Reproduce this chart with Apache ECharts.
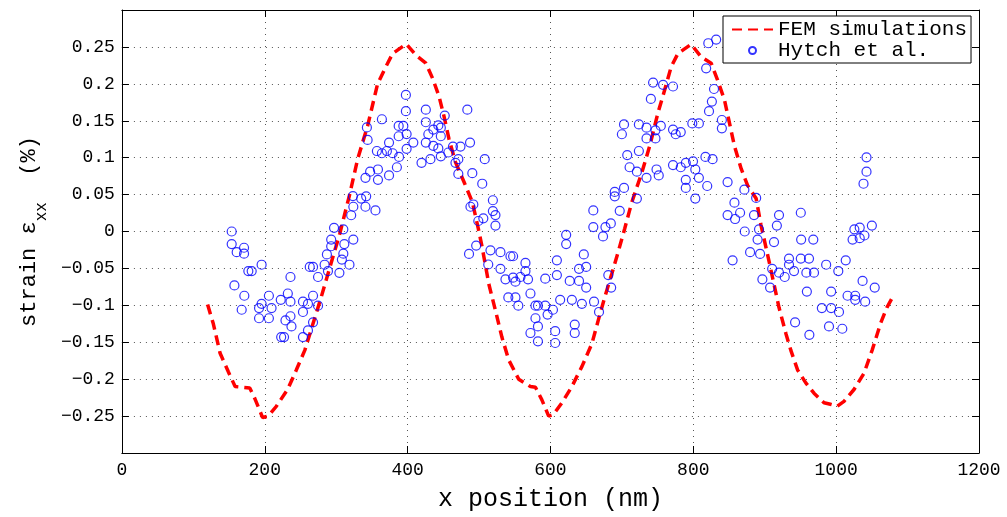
<!DOCTYPE html>
<html>
<head>
<meta charset="utf-8">
<script src="https://cdn.jsdelivr.net/npm/echarts@6/dist/echarts.min.js"></script>
<style>
html,body{margin:0;padding:0;background:#fff;}
#chart{width:1007px;height:517px;}
</style>
</head>
<body>
<div id="chart"></div>
<script>
// ---- data ----
const seriesNames = ['FEM simulations', 'Hytch et al.'];
const xTicks = [0, 200, 400, 600, 800, 1000, 1200];
const yTicks = [-0.25, -0.2, -0.15, -0.1, -0.05, 0, 0.05, 0.1, 0.15, 0.2, 0.25];

const femX = [120,128,137.5,149,158.5,179,186,197,205,216,232,244,256,267.5,279,291,305,318.6,330,344,358,369.5,379,398,411.5,425.5,435,444,451,458,467,479,490.6,499,504.5,513.8,523,532,541.6,555.5,572,579,588,597.5,604,616,630,644,658,667,676,685.7,695,704,714,728,739,750.6,760,769,778.5,797,811,825,834,843.6,850.6,857.6,867,876,888,894.7,906,913,920,929.6,936.6,946,957.5,969,983,992,1001.6,1011,1025,1039,1050.3,1062,1071,1080.6];
const femY = [-0.099,-0.125,-0.165,-0.19,-0.21,-0.212,-0.226,-0.252,-0.25,-0.237,-0.214,-0.188,-0.161,-0.125,-0.089,-0.049,-0.003,0.049,0.098,0.143,0.2,0.223,0.241,0.254,0.239,0.228,0.2075,0.183,0.156,0.125,0.094,0.067,0.04,0.004,-0.022,-0.0715,-0.107,-0.143,-0.174,-0.2,-0.21,-0.211,-0.228,-0.25,-0.248,-0.232,-0.21,-0.183,-0.152,-0.12,-0.089,-0.058,-0.027,0.004,0.04,0.08,0.116,0.161,0.192,0.223,0.241,0.2535,0.2365,0.228,0.205,0.1785,0.147,0.116,0.085,0.0625,0.0446,0.009,-0.04,-0.0715,-0.103,-0.138,-0.161,-0.1875,-0.205,-0.219,-0.232,-0.234,-0.2366,-0.23,-0.214,-0.192,-0.161,-0.125,-0.103,-0.086];

const hytchX = [
153.7,397.6,397.6,364,343,344,387.5,394,387.5,398.6,398.6,408,374,357,364,371,379,388,385,374,347.5,358.5,341,358.5,323.4,335,342,324,341,355,321,297,310,
153.7,160.7,171,171,157.5,171.4,167.7,177,181.7,195.6,192,195.6,192,205.8,209.5,205.8,222.4,232.3,236,236,236,229,237.4,223,227,253.5,260.5,253.5,267.6,274.6,267.6,260.5,253.5,263,267.6,274.6,283.8,288.5,287,293,293,304.5,308,310,311.4,318.6,324,
425.5,425.5,429,425.5,436,443,446.5,446.5,452,436,443,432,419.5,446.5,457,463.5,474,471,467,471,483.6,487.4,508,490.6,504.5,519.4,488,492,519.4,523,523,506,499,622,660,660,677,684.5,673.6,690,690,697,703,721,707.5,710.8,723.8,721,734.5,700,703,723.8,734.5,734.5,747,754.5,747,748.5,751.6,740.6,743.7,757.7,771.6,771.6,775.4,782.4,798.6,807.8,771.6,782.4,789.5,799.6,802.8,807.8,789.5,789.5,802.8,
486,496,512.9,516,530,530,544,547.7,537,547.7,551,558,565,565,568.6,541,551,555,572,579,582.5,592.7,592.7,603.5,596,579,582.5,572,582.5,606.6,606.6,609,609,613.6,622,627,630,634,634,640,640,646.7,650,650,644,661,668,681,685,
821,832,818,829,826,822,840,840,817,827,819.5,848,871.5,888,857.6,848,858.5,865.5,885,920,950.5,872,892,917,1042.5,1042.5,1038.3,1050,1025.5,1033,
890,913,855,879.5,893.5,910.4,896.7,907.5,920,928,934,934,941,951,968,950.5,962,958.3,969,959,942.5,962.5,986,1003,993,980,993,1004,990,1008.6,1013.4,1039.6,1033,1023,1016,1026.7,1026.7,1040.6,1037,1054
];
const hytchY = [
0.0,0.185,0.163,0.152,0.141,0.124,0.143,0.143,0.129,0.132,0.112,0.1205,0.1205,0.109,0.106,0.109,0.106,0.101,0.087,0.076,0.081,0.084,0.0727,0.07,0.048,0.0446,0.0477,0.0335,0.0335,0.0285,0.022,0.005,0.003,
-0.017,-0.028,-0.022,-0.030,-0.073,-0.087,-0.106,-0.0536,-0.0536,-0.045,-0.1037,-0.098,-0.1175,-0.087,-0.1037,-0.1175,-0.0925,-0.084,-0.0616,-0.095,-0.1148,-0.1205,-0.1286,-0.143,-0.143,-0.095,-0.098,-0.109,-0.087,-0.1005,-0.123,-0.134,-0.143,-0.048,-0.048,-0.0616,-0.045,-0.0536,-0.031,-0.020,-0.011,-0.056,-0.038,-0.030,-0.017,-0.045,-0.011,
0.165,0.148,0.1317,0.1205,0.138,0.1437,0.1406,0.129,0.157,0.116,0.1125,0.098,0.093,0.1018,0.107,0.115,0.115,0.098,0.093,0.078,0.165,0.1205,0.098,0.079,0.0647,0.0423,0.0335,0.0366,0.0276,0.0222,0.008,0.0178,0.0142,-0.0045,0.0285,0.006,0.006,0.011,-0.0067,0.0536,0.0477,0.028,0.059,0.0446,0.1035,0.087,0.109,0.081,0.0727,0.1317,0.145,0.145,0.1406,0.126,0.137,0.143,0.126,0.084,0.076,0.1795,0.2017,0.1987,0.1964,0.138,0.1317,0.1347,0.1464,0.1464,0.09,0.087,0.093,0.095,0.084,0.0727,0.07,0.059,0.0446,
-0.0304,-0.019,-0.0447,-0.0255,-0.028,-0.0505,-0.0335,-0.0335,-0.0648,-0.0625,-0.068,-0.0616,-0.0425,-0.0536,-0.0648,-0.0893,-0.0893,-0.1005,-0.084,-0.1005,-0.1005,-0.1005,-0.0639,-0.106,-0.1125,-0.1175,-0.1286,-0.1375,-0.1487,-0.135,-0.151,-0.039,-0.059,-0.0925,-0.017,-0.067,-0.0925,-0.126,-0.1375,-0.0505,-0.067,-0.031,-0.048,-0.076,-0.098,-0.095,-0.109,-0.059,-0.076,
0.255,0.26,0.221,0.193,0.176,0.163,0.151,0.1397,0.101,0.098,0.0616,0.067,0.0566,0.0455,0.039,0.0222,0.0169,0.0254,0.0222,0.0222,0.0254,0.0,0.003,0.008,0.1004,0.081,0.0647,0.008,0.003,0.0053,
-0.011,-0.0143,-0.039,-0.028,-0.0304,-0.0505,-0.0648,-0.076,-0.0558,-0.0616,-0.0367,-0.045,-0.0536,-0.011,-0.011,-0.0367,-0.0367,-0.0558,-0.0558,-0.0813,-0.123,-0.14,-0.045,-0.0536,-0.0813,-0.1037,-0.1037,-0.109,-0.1286,-0.1317,-0.039,-0.0054,-0.009,-0.011,-0.087,-0.087,-0.0925,-0.095,-0.067,-0.076
];

// ---- chart ----
const MONO = '"Liberation Mono", "DejaVu Sans Mono", monospace';
const femData = femX.map((x, i) => [x, femY[i]]);
const hytchData = hytchX.map((x, i) => [x, hytchY[i]]);

function fmtY(v) {
  const r = Math.round(v * 100) / 100;
  if (!yTicks.some(t => Math.abs(t - r) < 1e-9)) return '';
  return r < 0 ? '\u2212' + String(-r) : String(r);
}
function fmtX(v) {
  return xTicks.indexOf(Math.round(v)) >= 0 ? String(Math.round(v)) : '';
}

const boxAxisLine = { show: true, onZero: false, lineStyle: { color: '#000', width: 1 } };
const tickStyle = { show: true, inside: true, length: 7, lineStyle: { color: '#000', width: 1 } };
const gridLine = { show: true, lineStyle: { color: '#555', width: 1, type: [1, 5] } };

const chart = echarts.init(document.getElementById('chart'), null, { renderer: 'canvas' });
chart.setOption({
  animation: false,
  backgroundColor: '#fff',
  grid: { left: 118, right: 28, top: 10, bottom: 60, containLabel: false },
  legend: {
    left: 723, top: 16,
    orient: 'vertical',
    itemGap: 0,
    itemWidth: 41,
    itemHeight: 7,
    padding: [3, 4, 2, 8],
    borderColor: '#000',
    borderWidth: 1,
    backgroundColor: '#fff',
    textStyle: { fontFamily: MONO, fontSize: 21, color: '#000', lineHeight: 21 },
    data: [
      { name: seriesNames[0], itemStyle: { opacity: 0 } },
      { name: seriesNames[1] }
    ]
  },
  xAxis: [{
    type: 'value', min: 0, max: 1200, interval: 200,
    name: 'x position (nm)', nameLocation: 'middle', nameGap: 34,
    nameTextStyle: { fontFamily: MONO, fontSize: 25, color: '#000' },
    axisLine: boxAxisLine, axisTick: tickStyle,
    axisLabel: { color: '#000', fontFamily: MONO, fontSize: 18, margin: 8, formatter: fmtX },
    splitLine: gridLine
  }, {
    type: 'value', position: 'top', min: 0, max: 1200, interval: 200,
    axisLine: boxAxisLine, axisTick: tickStyle,
    axisLabel: { show: false }, splitLine: { show: false }
  }],
  yAxis: [{
    type: 'value', min: -0.3, max: 0.3, interval: 0.05,
    name: '{a|strain \u03b5}{s|xx}{a|  (%)}', nameLocation: 'middle', nameGap: 64,
    nameTextStyle: {
      rich: {
        a: { fontFamily: MONO, fontSize: 22, color: '#000', lineHeight: 22 },
        s: { fontFamily: MONO, fontSize: 16, color: '#000', lineHeight: 16, padding: [26, 0, 0, 0] }
      }
    },
    axisLine: boxAxisLine, axisTick: tickStyle,
    axisLabel: { color: '#000', fontFamily: MONO, fontSize: 18, margin: 7, formatter: fmtY },
    splitLine: gridLine
  }, {
    type: 'value', position: 'right', min: -0.3, max: 0.3, interval: 0.05,
    axisLine: boxAxisLine, axisTick: tickStyle,
    axisLabel: { show: false }, splitLine: { show: false }
  }],
  series: [{
    name: seriesNames[0],
    type: 'line',
    data: femData,
    showSymbol: false,
    symbol: 'none',
    itemStyle: { color: '#ff0000' },
    lineStyle: { color: '#ff0000', width: 3.5, type: [10, 6] },
    z: 2
  }, {
    name: seriesNames[1],
    type: 'scatter',
    data: hytchData,
    symbol: 'circle',
    symbolSize: 9,
    itemStyle: { color: 'rgba(0,0,0,0)', borderColor: '#0000ff', borderWidth: 1.2 },
    z: 3
  }]
});
</script>
</body>
</html>
